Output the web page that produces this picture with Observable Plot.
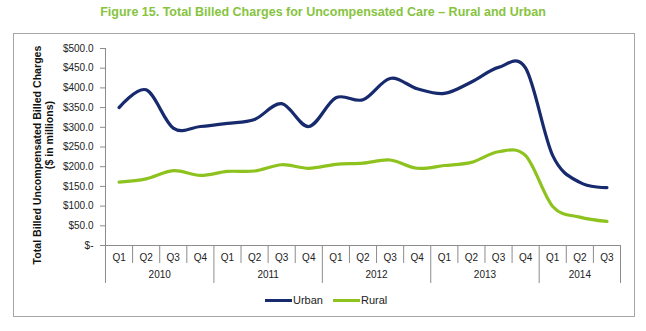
<!DOCTYPE html>
<html>
<head>
<meta charset="utf-8">
<script src="https://cdn.jsdelivr.net/npm/d3@7"></script>
<script src="https://cdn.jsdelivr.net/npm/@observablehq/plot@0.6"></script>
<style>
  html, body { margin: 0; padding: 0; background: #fff; }
  body { position: relative; width: 646px; height: 331px; overflow: hidden; font-family: "Liberation Sans", Arial, sans-serif; }
  #title { height: 28px; line-height: 24px; text-align: center; color: #86c440; font-weight: bold; font-size: 12.5px; font-family: "Liberation Sans Narrow", "Liberation Sans", Arial, sans-serif; }
  #frame { position: absolute; left: 13px; top: 33px; width: 620px; height: 282px; border: 1px solid #a6a6a6; pointer-events: none; }
  #legend { position: absolute; top: 292px; left: 0; width: 646px; height: 16px; font-size: 11px; color: #222; }
  .item { position: absolute; top: 0; height: 16px; line-height: 16px; }
  .sw { display: inline-block; width: 27px; height: 3px; vertical-align: middle; margin-right: 1px; position: relative; top: -1px; }
</style>
</head>
<body>
<div id="title">Figure 15. Total Billed Charges for Uncompensated Care – Rural and Urban</div>
<div id="chart"></div>
<div id="legend"></div>
<div id="frame"></div>
<script>
// ---- data ----
const quarters = ["Q1","Q2","Q3","Q4","Q1","Q2","Q3","Q4","Q1","Q2","Q3","Q4","Q1","Q2","Q3","Q4","Q1","Q2","Q3"];
const years = ["2010","2011","2012","2013","2014"];
const quartersPerYear = [4, 4, 4, 4, 3];
const urban = [350, 395, 298, 302, 310, 320, 360, 302, 375, 370, 424, 398, 386, 415, 452, 450, 228, 160, 147];
const rural = [161, 169, 190, 178, 188, 189, 205, 196, 206, 209, 217, 196, 203, 211, 238, 228, 99, 72, 61];
const yTicks = [0, 50, 100, 150, 200, 250, 300, 350, 400, 450, 500];
const seriesNames = ["Urban", "Rural"];
const seriesColors = ["#172a6e", "#8dc21f"];
const yTitle = "Total Billed Uncompensated Billed Charges";
const yTitle2 = "($ in millions)";

// ---- derived tables ----
const rows = [];
quarters.forEach((q, i) => {
  rows.push({i, series: "Urban", value: urban[i]});
  rows.push({i, series: "Rural", value: rural[i]});
});
const yearStarts = [];
let acc = 0;
quartersPerYear.forEach(n => { yearStarts.push(acc); acc += n; });
const yearBounds = [...yearStarts, acc].map(b => b - 0.5);
const quarterBounds = d3.range(0, quarters.length + 1).map(b => b - 0.5).filter(b => !yearBounds.includes(b));
const yearLabels = years.map((y, k) => ({year: y, mid: yearStarts[k] + (quartersPerYear[k] - 1) / 2}));

const axisColor = "#8c8c8c";
const chart = Plot.plot({
  width: 646,
  height: 262,
  marginLeft: 105,
  marginRight: 26,
  marginTop: 20,
  marginBottom: 45,
  style: {fontFamily: "'Liberation Sans', Arial, sans-serif", fontSize: "10px", color: "#222", background: "transparent", overflow: "visible"},
  x: {type: "linear", domain: [-0.5, quarters.length - 0.5], axis: null},
  y: {domain: [0, 500], axis: null},
  color: {domain: seriesNames, range: seriesColors},
  marks: [
    // y axis
    Plot.axisY({ticks: yTicks, tickSize: 5, tickPadding: 7, stroke: axisColor, color: "#222",
      tickFormat: d => d === 0 ? "$-" : "$" + d.toFixed(1), label: null}),
    Plot.ruleX([-0.5], {stroke: axisColor}),
    // x axis line
    Plot.ruleY([0], {stroke: axisColor}),
    // quarter separators (short) and year separators (long)
    Plot.axisX({ticks: quarterBounds, tickSize: 18, tickFormat: () => "", stroke: axisColor, label: null}),
    Plot.axisX({ticks: yearBounds, tickSize: 38, tickFormat: () => "", stroke: axisColor, label: null}),
    // quarter labels
    Plot.axisX({ticks: d3.range(quarters.length), tickSize: 0, tickPadding: 8, tickFormat: i => quarters[i], label: null}),
    // year labels
    Plot.text(yearLabels, {x: "mid", frameAnchor: "bottom", dy: 32, text: "year", fill: "#222"}),
    // y titles
    Plot.text([yTitle], {frameAnchor: "left", textAnchor: "middle", rotate: -90, dx: -68, dy: 8, fontWeight: "bold", fontSize: 10.6, fill: "#111"}),
    Plot.text([yTitle2], {frameAnchor: "left", textAnchor: "middle", rotate: -90, dx: -56, dy: -12, fontWeight: "bold", fontSize: 10.6, fill: "#111"}),
    // lines
    Plot.line(rows, {x: "i", y: "value", z: "series", stroke: "series", strokeWidth: 3.2, curve: "cardinal"})
  ]
});
document.getElementById("chart").appendChild(chart);

// legend
const legend = document.getElementById("legend");
const legendLeft = [265, 333];
seriesNames.forEach((name, k) => {
  const item = document.createElement("div");
  item.className = "item";
  item.style.left = legendLeft[k] + "px";
  const sw = document.createElement("span");
  sw.className = "sw";
  sw.style.background = seriesColors[k];
  item.appendChild(sw);
  item.appendChild(document.createTextNode(name));
  legend.appendChild(item);
});
</script>
</body>
</html>
